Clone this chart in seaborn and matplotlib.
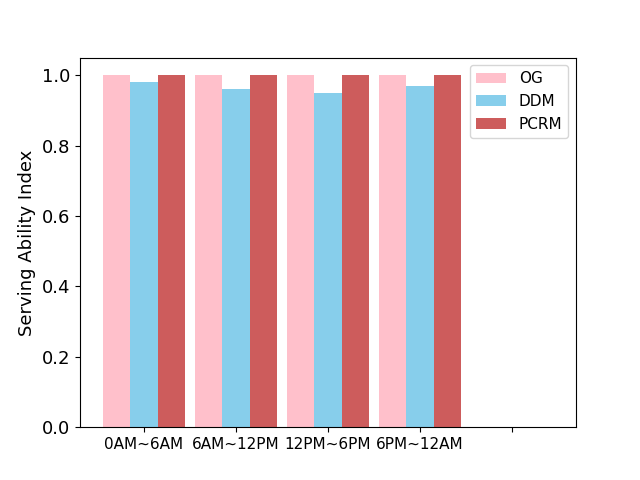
import matplotlib
matplotlib.use("Agg")
import matplotlib.pyplot as plt
import seaborn as sns
import pandas as pd

periods = ["0AM~6AM", "6AM~12PM", "12PM~6PM", "6PM~12AM"]
methods = ["OG", "DDM", "PCRM"]
og = [1.0, 1.0, 1.0, 1.0]
ddm = [0.98, 0.96, 0.95, 0.97]
pcrm = [1.0, 1.0, 1.0, 1.0]
colors = ["pink", "skyblue", "indianred"]

rows = []
for m, vals in zip(methods, [og, ddm, pcrm]):
    for p, v in zip(periods, vals):
        rows.append({"period": p, "method": m, "value": v})
df = pd.DataFrame(rows)

plt.rcdefaults()
plt.rcParams["font.family"] = ["DejaVu Sans"]
fig, ax = plt.subplots(figsize=(6.4, 4.8), dpi=100)
sns.barplot(data=df, x="period", y="value", hue="method", order=periods + [""],
            hue_order=methods, palette=colors, width=0.9, saturation=1,
            linewidth=0, edgecolor="none", ax=ax, errorbar=None)
ax.set_xlim(-0.695, 4.695)
ax.set_ylim(0, 1.05)
ax.set_xlabel("")
ax.set_ylabel("Serving Ability Index", fontsize=13)
ax.tick_params(axis="y", labelsize=13)
ax.tick_params(axis="x", labelsize=11)
ax.legend(loc="upper right", fontsize=11, title=None, frameon=True)
fig.savefig("out.png", dpi=100)
